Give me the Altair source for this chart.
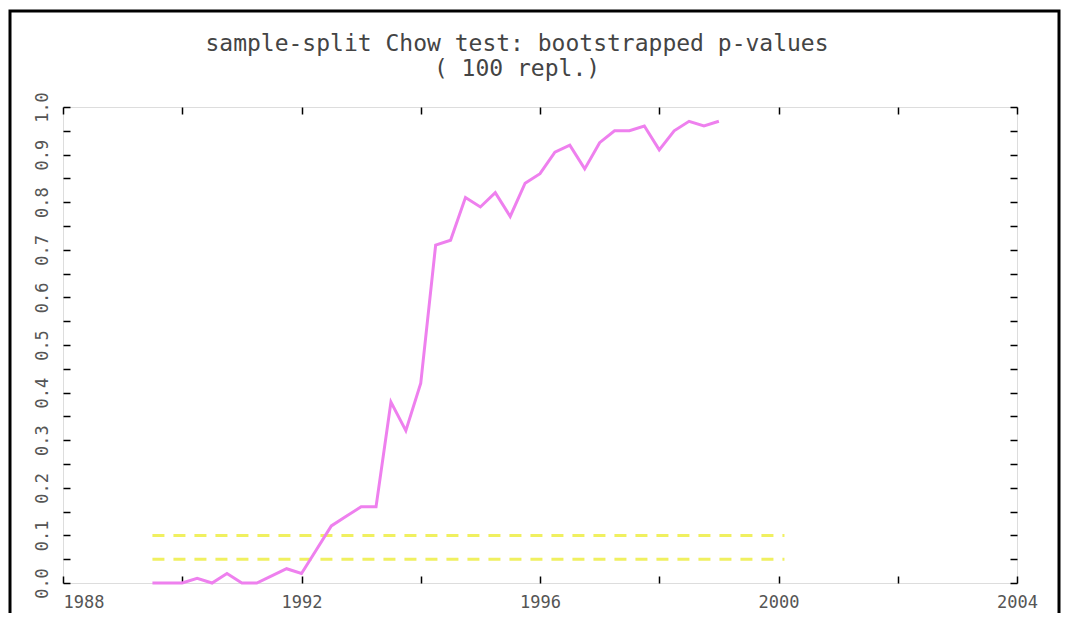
import altair as alt
import pandas as pd

# quarterly sample-split dates (decimal years)
quarters = [1989.5, 1989.75, 1990.0, 1990.25, 1990.5, 1990.75, 1991.0, 1991.25, 1991.5, 1991.75,
            1992.0, 1992.25, 1992.5, 1992.75, 1993.0, 1993.25, 1993.5, 1993.75, 1994.0, 1994.25,
            1994.5, 1994.75, 1995.0, 1995.25, 1995.5, 1995.75, 1996.0, 1996.25, 1996.5, 1996.75,
            1997.0, 1997.25, 1997.5, 1997.75, 1998.0, 1998.25, 1998.5, 1998.75, 1999.0]
p_values = [0.00, 0.00, 0.00, 0.01, 0.00, 0.02, 0.00, 0.00, 0.015, 0.03,
            0.02, 0.07, 0.12, 0.14, 0.16, 0.16, 0.38, 0.32, 0.42, 0.71,
            0.72, 0.81, 0.79, 0.82, 0.77, 0.84, 0.86, 0.905, 0.92, 0.87,
            0.925, 0.95, 0.95, 0.96, 0.91, 0.95, 0.97, 0.96, 0.97]

crit_levels = [0.10, 0.05]
crit_start = 1989.5
crit_end = 2000.1

x_ticks = [1988, 1990, 1992, 1994, 1996, 1998, 2000, 2002, 2004]
y_ticks = [0.0, 0.05, 0.1, 0.15, 0.2, 0.25, 0.3, 0.35, 0.4, 0.45, 0.5,
           0.55, 0.6, 0.65, 0.7, 0.75, 0.8, 0.85, 0.9, 0.95, 1.0]

title_lines = ["sample-split Chow test: bootstrapped p-values", "( 100 repl.)"]

df = pd.DataFrame({"year": quarters, "p": p_values})
crit_df = pd.DataFrame({"level": crit_levels,
                        "start": [crit_start] * len(crit_levels),
                        "end": [crit_end] * len(crit_levels)})

FONT = "DejaVu Sans Mono"
LABEL_COLOR = "#555555"

x_scale = alt.Scale(domain=[1988, 2004], nice=False, zero=False)
y_scale = alt.Scale(domain=[0, 1], nice=False, zero=True)

common = dict(domain=False, grid=False, tickColor="black", tickWidth=1.5,
              tickSize=7, offset=-7, labelFont=FONT, labelFontSize=17,
              labelColor=LABEL_COLOR, title=None)

x_bottom = alt.Axis(orient="bottom", values=x_ticks,
                    labelExpr="datum.value % 4 == 0 ? format(datum.value, 'd') : ''",
                    labelAlign={"expr": "datum.value == 1988 ? 'left' : 'center'"},
                    labelPadding=11, labelFlush=False, labelOverlap=False, **common)
y_left = alt.Axis(orient="left", values=y_ticks,
                  labelExpr="round(datum.value * 100) % 10 == 0 ? format(datum.value, '.1f') : ''",
                  labelAngle=270, labelAlign="center", labelBaseline="bottom",
                  labelPadding=12, labelOverlap=False, **common)
x_top = alt.Axis(orient="top", values=x_ticks, labels=False, **common)
y_right = alt.Axis(orient="right", values=y_ticks, labels=False, **common)

line = alt.Chart(df).mark_line(color="#ee80ee", strokeWidth=3).encode(
    x=alt.X("year:Q", scale=x_scale, axis=x_bottom),
    y=alt.Y("p:Q", scale=y_scale, axis=y_left),
)

crit = alt.Chart(crit_df).mark_rule(color="#f0f060", strokeWidth=3,
                                    strokeDash=[12, 9]).encode(
    x=alt.X("start:Q", scale=x_scale, axis=x_top),
    x2="end:Q",
    y=alt.Y("level:Q", scale=y_scale, axis=y_right),
)

frame = alt.Chart(alt.Data(values=[{"k": 1}])).mark_rect(
    fillOpacity=0, stroke="black", strokeWidth=3
).encode(
    x=alt.value(-53), x2=alt.value(996), y=alt.value(-96), y2=alt.value(540)
)

chart = alt.layer(crit, line, frame).resolve_scale(
    x="independent", y="independent"
).properties(
    width=954, height=476,
    padding={"left": 55, "top": 99, "right": 44, "bottom": 30},
    autosize=alt.AutoSizeParams(type="none"),
    title=alt.TitleParams(text=title_lines, font=FONT, fontSize=23,
                          fontWeight="normal", color="#444444",
                          lineHeight=25, offset=0, dy=71, dx=-23, anchor="middle"),
).configure_view(
    stroke="black", strokeWidth=2
).configure(background="white")

chart.save("out.html", embed_options={"renderer": "svg", "actions": False})
